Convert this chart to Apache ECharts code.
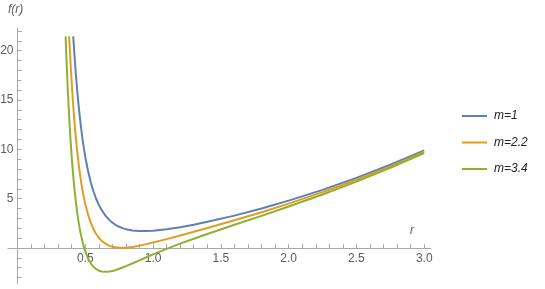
<!DOCTYPE html>
<html>
<head>
<meta charset="utf-8">
<script src="https://cdn.jsdelivr.net/npm/echarts@6/dist/echarts.min.js"></script>
<style>
html,body{margin:0;padding:0;background:#fff;}
#chart{width:545px;height:289px;}
</style>
</head>
<body>
<div id="chart"></div>
<script>
// ---- data ----
const seriesNames = ['m=1', 'm=2.2', 'm=3.4'];

const rBlue = [0.411,0.42,0.43,0.44,0.45,0.46,0.47,0.48,0.49,0.50,0.52,0.54,0.56,0.58,0.60,0.62,0.65,0.68,0.70,0.72,0.75,0.78,0.80,0.85,0.90,0.95,1.0,1.1,1.2,1.3,1.4,1.6,1.8,2.0,2.25,2.5,2.75,3.0];
const fBlue = [21.45,19.61,17.72,16.04,14.55,13.24,12.06,11.02,10.09,9.25,7.83,6.68,5.75,4.99,4.37,3.86,3.26,2.81,2.57,2.38,2.15,1.99,1.91,1.78,1.72,1.72,1.75,1.90,2.11,2.36,2.65,3.28,4.00,4.80,5.89,7.11,8.44,9.90];

const rOrange = [0.381,0.39,0.40,0.41,0.42,0.43,0.44,0.45,0.46,0.47,0.48,0.49,0.50,0.52,0.54,0.56,0.58,0.60,0.62,0.65,0.68,0.70,0.72,0.75,0.78,0.80,0.85,0.90,0.95,1.0,1.1,1.2,1.3,1.4,1.6,1.8,2.0,2.25,2.5,2.75,3.0];
const fOrange = [21.45,19.11,16.71,14.62,12.81,11.23,9.84,8.63,7.56,6.63,5.81,5.09,4.45,3.39,2.57,1.93,1.42,1.04,0.74,0.42,0.21,0.12,0.07,0.02,0.02,0.03,0.11,0.24,0.39,0.55,0.90,1.27,1.65,2.03,2.82,3.63,4.50,5.66,6.92,8.28,9.76];

const rGreen = [0.355,0.36,0.37,0.38,0.39,0.40,0.41,0.42,0.43,0.44,0.45,0.46,0.47,0.48,0.49,0.50,0.52,0.54,0.56,0.58,0.60,0.62,0.65,0.68,0.70,0.72,0.75,0.78,0.80,0.85,0.90,0.95,1.0,1.1,1.2,1.3,1.4,1.6,1.8,2.0,2.25,2.5,2.75,3.0];
const fGreen = [21.45,19.55,16.32,13.57,11.22,9.21,7.48,6.01,4.74,3.64,2.70,1.89,1.20,0.60,0.09,-0.35,-1.04,-1.55,-1.90,-2.14,-2.30,-2.38,-2.42,-2.38,-2.33,-2.25,-2.11,-1.95,-1.84,-1.55,-1.25,-0.94,-0.65,-0.09,0.44,0.94,1.42,2.35,3.26,4.20,5.42,6.73,8.13,9.63];

const xTickLabels = [0.5, 1.0, 1.5, 2.0, 2.5, 3.0];
const yTickLabels = [5, 10, 15, 20];
const xMinorTicks = [0.1,0.2,0.3,0.4,0.5,0.6,0.7,0.8,0.9,1.0,1.1,1.2,1.3,1.4,1.5,1.6,1.7,1.8,1.9,2.0,2.1,2.2,2.3,2.4,2.5,2.6,2.7,2.8,2.9,3.0];
const yMinorTicks = [-3,-2,-1,1,2,3,4,5,6,7,8,9,10,11,12,13,14,15,16,17,18,19,20,21,22];

// ---- chart ----
const colors = ['#5E81B5', '#E19C24', '#8FB032'];
const zip = (xs, ys) => xs.map((x, i) => [x, ys[i]]);
const seriesData = [zip(rBlue, fBlue), zip(rOrange, fOrange), zip(rGreen, fGreen)];

const X_MIN = -0.07, X_MAX = 3.05, Y_MIN = -3.6, Y_MAX = 22.3;
const W = 545, H = 289;
const G = {left: 8, right: 114, top: 28, bottom: 5.5};
const plotW = W - G.left - G.right, plotH = H - G.top - G.bottom;
// second grid whose left/bottom edges sit on the x=0 / y=0 lines (for tick labels)
const G2 = {
  left: G.left + (0 - X_MIN) / (X_MAX - X_MIN) * plotW,
  right: G.right,
  top: G.top,
  bottom: G.bottom + (0 - Y_MIN) / (Y_MAX - Y_MIN) * plotH
};

const axisGrey = '#a8a8a8';
const labelGrey = '#5c5c5c';
const font = '"Liberation Sans", Arial, sans-serif';

const chart = echarts.init(document.getElementById('chart'), null, {renderer: 'canvas'});
chart.setOption({
  animation: false,
  backgroundColor: '#ffffff',
  color: colors,
  grid: [
    Object.assign({containLabel: false, outerBoundsMode: 'none'}, G),
    Object.assign({containLabel: false, outerBoundsMode: 'none'}, G2)
  ],
  xAxis: [{
    gridIndex: 0, type: 'value', min: X_MIN, max: X_MAX,
    axisLine: {show: true, onZero: true, lineStyle: {color: axisGrey, width: 1}},
    axisTick: {show: true, inside: true, length: 4, customValues: xMinorTicks, lineStyle: {color: axisGrey}},
    axisLabel: {show: false},
    splitLine: {show: false}
  }, {
    gridIndex: 1, type: 'value', min: 0, max: X_MAX,
    axisLine: {show: false, onZero: false}, axisTick: {show: false},
    axisLabel: {show: true, customValues: xTickLabels, formatter: v => v.toFixed(1), color: labelGrey, fontSize: 12, fontFamily: font, margin: 5},
    splitLine: {show: false}
  }],
  yAxis: [{
    gridIndex: 0, type: 'value', min: Y_MIN, max: Y_MAX,
    axisLine: {show: true, onZero: true, lineStyle: {color: axisGrey, width: 1}},
    axisTick: {show: true, inside: true, length: 4, customValues: yMinorTicks, lineStyle: {color: axisGrey}},
    axisLabel: {show: false},
    splitLine: {show: false}
  }, {
    gridIndex: 1, type: 'value', min: 0, max: Y_MAX,
    axisLine: {show: false, onZero: false}, axisTick: {show: false},
    axisLabel: {show: true, customValues: yTickLabels, formatter: v => String(v), color: labelGrey, fontSize: 12, fontFamily: font, margin: 4},
    splitLine: {show: false}
  }],
  legend: {
    orient: 'vertical', left: 462, top: 109, padding: 0,
    itemWidth: 25, itemHeight: 2, itemGap: 12.5, icon: 'rect',
    textStyle: {fontSize: 12, fontStyle: 'italic', fontFamily: font, color: '#222', lineHeight: 14, padding: [0, 0, 0, 2]},
    data: seriesNames
  },
  graphic: [
    {type: 'text', left: 8, top: 4, style: {text: 'f(r)', fontSize: 12, fontStyle: 'italic', fontFamily: font, fill: labelGrey}},
    {type: 'text', left: 410, top: 225, style: {text: 'r', fontSize: 12, fontStyle: 'italic', fontFamily: font, fill: labelGrey}}
  ],
  series: seriesNames.map((name, i) => ({
    name: name, type: 'line', data: seriesData[i], xAxisIndex: 0, yAxisIndex: 0,
    showSymbol: false, symbol: 'none', smooth: false,
    lineStyle: {width: 2, color: colors[i]}, itemStyle: {color: colors[i]},
    clip: true
  })).concat([{
    name: '_labels', type: 'line', data: [], xAxisIndex: 1, yAxisIndex: 1, silent: true
  }])
});
</script>
</body>
</html>
